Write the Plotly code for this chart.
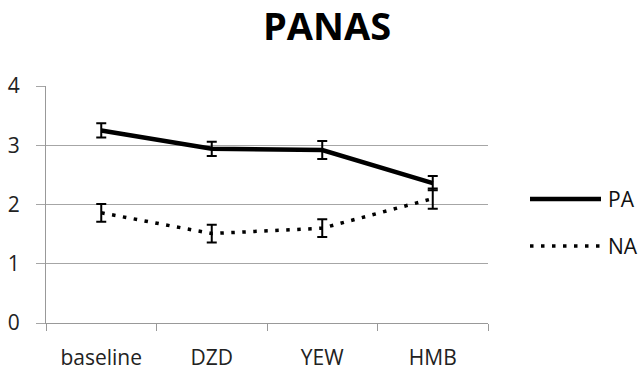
import plotly.graph_objects as go

categories = ["baseline", "DZD", "YEW", "HMB"]
pa_values = [3.25, 2.94, 2.92, 2.36]
pa_errors = [0.12, 0.12, 0.15, 0.12]
na_values = [1.86, 1.51, 1.60, 2.10]
na_errors = [0.15, 0.15, 0.15, 0.17]
y_ticks = [0, 1, 2, 3, 4]
series_names = ["PA", "NA"]

FONT = "Open Sans"
W, H = 640, 372
L, R, T, B = 46, 152, 86, 49
pw, ph = W - L - R, H - T - B

def px_x(x):
    return (x - L) / pw

def px_y(y):
    return (H - B - y) / ph

fig = go.Figure()
fig.add_trace(go.Scatter(
    x=categories, y=pa_values, name=series_names[0], mode="lines",
    line=dict(color="black", width=4.5),
    error_y=dict(type="data", array=pa_errors, color="black", thickness=2, width=5),
    showlegend=False,
))
fig.add_trace(go.Scatter(
    x=categories, y=na_values, name=series_names[1], mode="lines",
    line=dict(color="black", width=3.5, dash="3.5px,7.5px"),
    error_y=dict(type="data", array=na_errors, color="black", thickness=2, width=5),
    showlegend=False,
))

# manual legend (longer line samples, as in the reference)
legend_rows = [(199, dict(color="black", width=4.5)),
               (246, dict(color="black", width=3.5, dash="3.5px,7.5px"))]
for name, (ypx, ln) in zip(series_names, legend_rows):
    fig.add_shape(type="line", xref="paper", yref="paper",
                  x0=px_x(530), x1=px_x(601), y0=px_y(ypx), y1=px_y(ypx), line=ln)
    fig.add_annotation(text=name, xref="paper", yref="paper", x=px_x(606), y=px_y(ypx),
                       xanchor="left", yanchor="middle", showarrow=False,
                       font=dict(family=FONT, size=21, color="#111"))

fig.update_layout(
    width=W, height=H,
    paper_bgcolor="white", plot_bgcolor="white",
    margin=dict(l=L, r=R, t=T, b=B, autoexpand=False),
    title=dict(text="<b>PANAS</b>", x=327 / W, xanchor="center", y=1 - 27 / H, yanchor="middle",
               font=dict(family=FONT, size=38, color="black")),
    font=dict(family=FONT, size=21, color="#222"),
    showlegend=False,
)
fig.update_xaxes(
    type="category", range=[-0.5, len(categories) - 0.5],
    showgrid=False, showline=True, linecolor="#999", linewidth=1,
    ticks="outside", tickson="boundaries", ticklen=7, tickcolor="#999",
    tickfont=dict(family=FONT, size=21, color="#222"), automargin=False,
    ticklabelstandoff=16,
)
fig.update_yaxes(
    range=[0, 4], tickvals=y_ticks, showgrid=True, gridcolor="#a6a6a6", gridwidth=1,
    showline=True, linecolor="#999", linewidth=1, ticks="outside", ticklen=9, tickcolor="#a6a6a6",
    tickfont=dict(family=FONT, size=21, color="#222"), zeroline=False, automargin=False,
    ticklabelstandoff=12,
)

fig.write_html("out.html", config={"displayModeBar": False},
               post_script="document.body.style.margin='0';document.body.style.overflow='hidden';")
